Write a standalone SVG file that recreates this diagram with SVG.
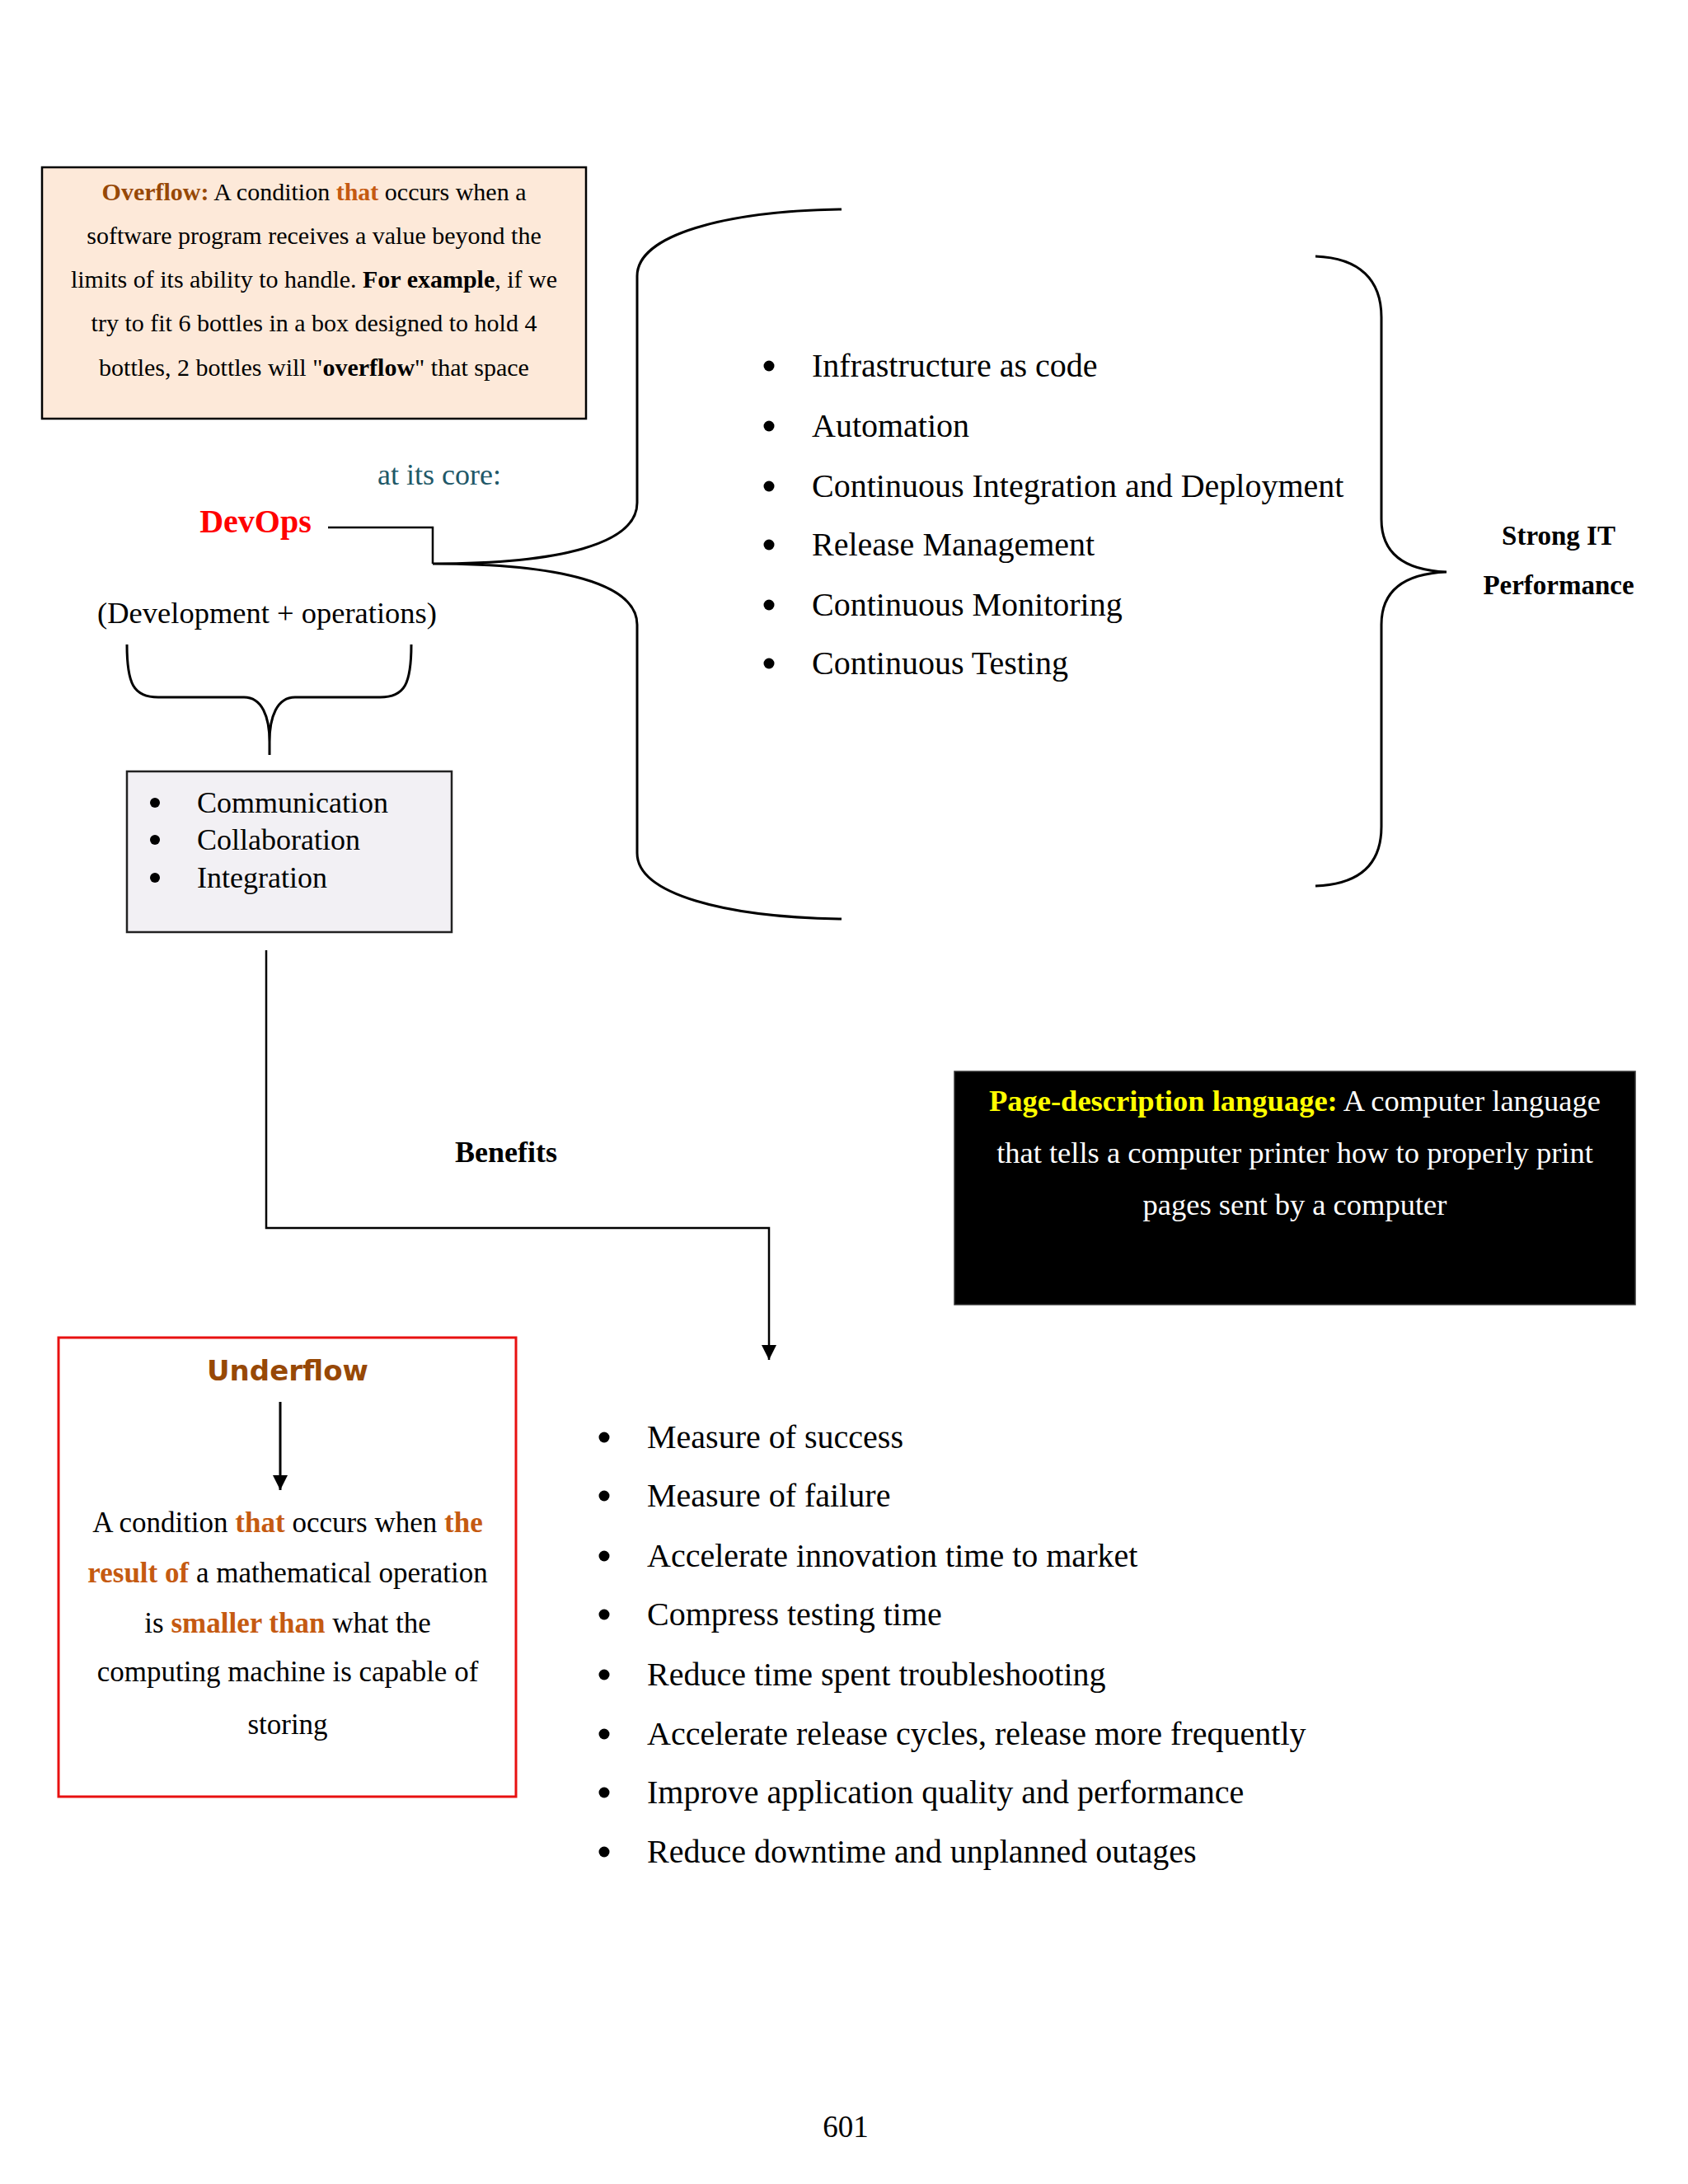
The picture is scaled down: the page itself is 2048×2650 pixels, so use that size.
<svg xmlns="http://www.w3.org/2000/svg" width="2048" height="2650" viewBox="0 0 2048 2650">
<style>
.t{font-family:"Liberation Serif","Times New Roman",serif;fill:#000}
.c{text-anchor:middle}
.b{font-weight:bold}
.ln{fill:none;stroke:#000;stroke-width:2.5}
.br{fill:none;stroke:#000;stroke-width:3}
.or{fill:#C55A11;font-weight:bold}
.bn{fill:#974806;font-weight:bold}
.dot{fill:#000}
</style>
<defs>
<marker id="ah2" viewBox="0 0 10 10" refX="10" refY="5" markerWidth="18" markerHeight="18" markerUnits="userSpaceOnUse" orient="auto">
<path d="M0,0 L10,5 L0,10 Z" fill="#000"/>
</marker>
</defs>
<rect width="2048" height="2650" fill="#fff"/>

<g id="overflow">
<rect x="51" y="203" width="660" height="305" fill="#FDE9D9" stroke="#000" stroke-width="2.5"/>
<text class="t c" font-size="30" x="381" y="243"><tspan class="bn">Overflow:</tspan> A condition <tspan class="or">that</tspan> occurs when a</text>
<text class="t c" font-size="30" x="381" y="296">software program receives a value beyond the</text>
<text class="t c" font-size="30" x="381" y="349">limits of its ability to handle. <tspan class="b">For example</tspan>, if we</text>
<text class="t c" font-size="30" x="381" y="402">try to fit 6 bottles in a box designed to hold 4</text>
<text class="t c" font-size="30" x="381" y="456">bottles, 2 bottles will "<tspan class="b">overflow</tspan>" that space</text>
</g>

<g id="devops">
<text class="t c" font-size="36" x="533" y="588" style="fill:#215868">at its core:</text>
<text class="t c b" font-size="40" x="310" y="646" style="fill:#FF0000">DevOps</text>
<text class="t c" font-size="36.5" x="324" y="756">(Development + operations)</text>
</g>

<g id="practices">
<circle class="dot" cx="933" cy="444" r="6.5"/><text class="t" font-size="40" x="985" y="457">Infrastructure as code</text>
<circle class="dot" cx="933" cy="517" r="6.5"/><text class="t" font-size="40" x="985" y="530">Automation</text>
<circle class="dot" cx="933" cy="590" r="6.5"/><text class="t" font-size="40" x="985" y="603">Continuous Integration and Deployment</text>
<circle class="dot" cx="933" cy="661" r="6.5"/><text class="t" font-size="40" x="985" y="674">Release Management</text>
<circle class="dot" cx="933" cy="734" r="6.5"/><text class="t" font-size="40" x="985" y="747">Continuous Monitoring</text>
<circle class="dot" cx="933" cy="805" r="6.5"/><text class="t" font-size="40" x="985" y="818">Continuous Testing</text>
</g>

<g id="strong-it">
<text class="t c b" font-size="33" x="1891" y="661">Strong IT</text>
<text class="t c b" font-size="33" x="1891" y="721">Performance</text>
</g>

<g id="culture">
<rect x="154" y="936" width="394" height="195" fill="#F2F0F4" stroke="#222" stroke-width="2.5"/>
<circle class="dot" cx="188" cy="974" r="6"/><text class="t" font-size="36" x="239" y="986">Communication</text>
<circle class="dot" cx="188" cy="1019" r="6"/><text class="t" font-size="36" x="239" y="1031">Collaboration</text>
<circle class="dot" cx="188" cy="1065" r="6"/><text class="t" font-size="36" x="239" y="1077">Integration</text>
</g>

<g id="benefits-label">
<text class="t c b" font-size="36" x="614" y="1410">Benefits</text>
</g>

<g id="pdl">
<rect x="1158" y="1300" width="826" height="283" fill="#000" stroke="#333" stroke-width="1.5"/>
<text class="t c" font-size="36.5" x="1571" y="1348" style="fill:#fff"><tspan class="b" style="fill:#FFFF00">Page-description language:</tspan> A computer language</text>
<text class="t c" font-size="36.5" x="1571" y="1411" style="fill:#fff">that tells a computer printer how to properly print</text>
<text class="t c" font-size="36.5" x="1571" y="1474" style="fill:#fff">pages sent by a computer</text>
</g>

<g id="underflow">
<rect x="71" y="1623" width="555" height="557" fill="#fff" stroke="#E81010" stroke-width="3"/>
<text class="c" font-family="'DejaVu Sans','Verdana',sans-serif" font-weight="bold" font-size="34" x="349" y="1675" fill="#974806">Underflow</text>
<line x1="340" y1="1701" x2="340" y2="1808" stroke="#000" stroke-width="3" marker-end="url(#ah2)"/>
<text class="t c" font-size="35" x="349" y="1859">A condition <tspan class="or">that</tspan> occurs when <tspan class="or">the</tspan></text>
<text class="t c" font-size="35" x="349" y="1920"><tspan class="or">result of</tspan> a mathematical operation</text>
<text class="t c" font-size="35" x="349" y="1981">is <tspan class="or">smaller than</tspan> what the</text>
<text class="t c" font-size="35" x="349" y="2040">computing machine is capable of</text>
<text class="t c" font-size="35" x="349" y="2104">storing</text>
</g>

<g id="benefits">
<circle class="dot" cx="733" cy="1744" r="6.5"/><text class="t" font-size="40" x="785" y="1757">Measure of success</text>
<circle class="dot" cx="733" cy="1815" r="6.5"/><text class="t" font-size="40" x="785" y="1828">Measure of failure</text>
<circle class="dot" cx="733" cy="1888" r="6.5"/><text class="t" font-size="40" x="785" y="1901">Accelerate innovation time to market</text>
<circle class="dot" cx="733" cy="1959" r="6.5"/><text class="t" font-size="40" x="785" y="1972">Compress testing time</text>
<circle class="dot" cx="733" cy="2032" r="6.5"/><text class="t" font-size="40" x="785" y="2045">Reduce time spent troubleshooting</text>
<circle class="dot" cx="733" cy="2104" r="6.5"/><text class="t" font-size="40" x="785" y="2117">Accelerate release cycles, release more frequently</text>
<circle class="dot" cx="733" cy="2175" r="6.5"/><text class="t" font-size="40" x="785" y="2188">Improve application quality and performance</text>
<circle class="dot" cx="733" cy="2247" r="6.5"/><text class="t" font-size="40" x="785" y="2260">Reduce downtime and unplanned outages</text>
</g>

<g id="page-number">
<text class="t c" font-size="37" x="1026" y="2593">601</text>
</g>

<g id="connectors">
<path class="ln" d="M398,640 L525,640 L525,684"/>
<path class="br" d="M1021,254 C880,256 773,285 773,335 L773,610 C773,660 680,684 525,684 C680,684 773,708 773,758 L773,1035 C773,1085 880,1113 1021,1115"/>
<path class="br" d="M1596,311 C1650,313 1676,340 1676,385 L1676,630 C1676,672 1705,692 1755,694 C1705,696 1676,716 1676,758 L1676,1003 C1676,1048 1650,1073 1596,1075"/>
<path class="br" d="M154,782 C154,830 162,846 192,846 L296,846 C318,846 327,870 327,900 L327,916 M499,782 C499,830 491,846 461,846 L358,846 C336,846 327,870 327,900"/>
<path class="ln" d="M323,1153 L323,1490 L933,1490 L933,1650" marker-end="url(#ah2)"/>
</g>
</svg>
